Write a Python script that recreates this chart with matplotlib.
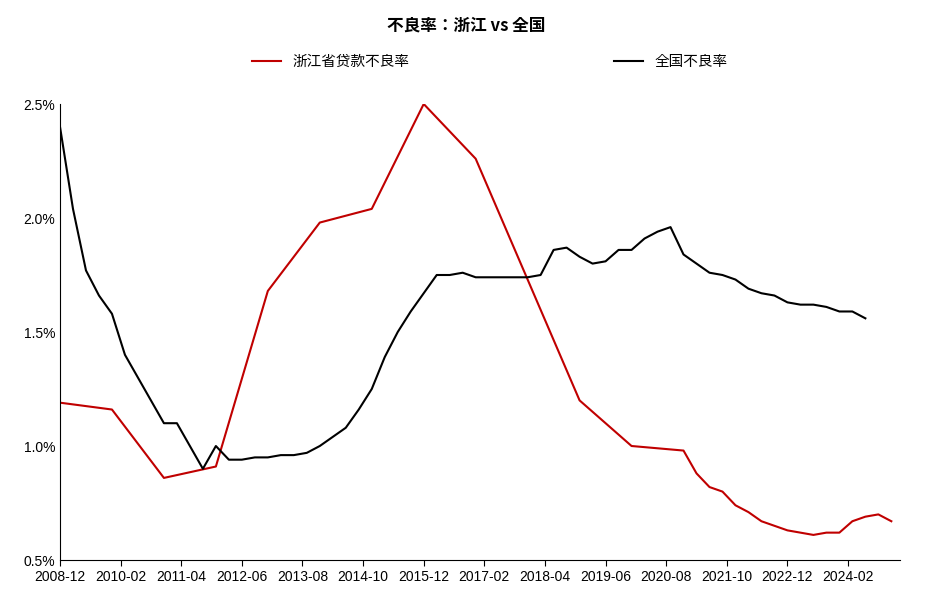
import matplotlib
matplotlib.use("Agg")
import matplotlib.pyplot as plt
import matplotlib.ticker as mt
from matplotlib.font_manager import FontProperties

REG = "/usr/share/fonts/opentype/noto/NotoSansCJK-Regular.ttc"
BOLD = "/usr/share/fonts/opentype/noto/NotoSansCJK-Bold.ttc"
plt.rcParams["font.family"] = "sans-serif"
plt.rcParams["font.sans-serif"] = ["Liberation Sans", "DejaVu Sans"]

# month offsets from 2008-12
nat_months = list(range(0, 187, 3))
nat_vals = [2.40, 2.04, 1.77, 1.66, 1.58, 1.40, 1.30, 1.20, 1.10, 1.10, 1.00, 0.90,
            1.00, 0.94, 0.94, 0.95, 0.95, 0.96, 0.96, 0.97, 1.00, 1.04, 1.08, 1.16,
            1.25, 1.39, 1.50, 1.59, 1.67, 1.75, 1.75, 1.76, 1.74, 1.74, 1.74, 1.74,
            1.74, 1.75, 1.86, 1.87, 1.83, 1.80, 1.81, 1.86, 1.86, 1.91, 1.94, 1.96,
            1.84, 1.80, 1.76, 1.75, 1.73, 1.69, 1.67, 1.66, 1.63, 1.62, 1.62, 1.61,
            1.59, 1.59, 1.56]
zj_months = [0, 12, 24, 36, 48, 60, 72, 84, 96, 108, 120, 132, 144, 147, 150, 153,
             156, 159, 162, 165, 168, 171, 174, 177, 180, 183, 186, 189, 192]
zj_vals = [1.19, 1.16, 0.86, 0.91, 1.68, 1.98, 2.04, 2.50, 2.26, 1.73, 1.20, 1.00,
           0.98, 0.88, 0.82, 0.80, 0.74, 0.71, 0.67, 0.65, 0.63, 0.62, 0.61, 0.62,
           0.62, 0.67, 0.69, 0.70, 0.67]
tick_months = list(range(0, 183, 14))
tick_labels = ["2008-12", "2010-02", "2011-04", "2012-06", "2013-08", "2014-10",
               "2015-12", "2017-02", "2018-04", "2019-06", "2020-08", "2021-10",
               "2022-12", "2024-02"]

fig = plt.figure(figsize=(9.33, 6.02), dpi=100)
ax = fig.add_axes([60/933, 42/602, 840/933, 456/602])
ax.plot(zj_months, zj_vals, color="#C00000", lw=1.5, label="浙江省贷款不良率")
ax.plot(nat_months, nat_vals, color="black", lw=1.5, label="全国不良率")
ax.set_xlim(0, 194)
ax.set_ylim(0.5, 2.5)
ax.set_yticks([0.5, 1.0, 1.5, 2.0, 2.5])
ax.yaxis.set_major_formatter(mt.FuncFormatter(lambda v, p: f"{v:.1f}%"))
ax.set_xticks(tick_months)
ax.set_xticklabels(tick_labels)
ax.tick_params(labelsize=10, length=4)
ax.tick_params(axis="y", length=0)
for s in ["top", "right"]:
    ax.spines[s].set_visible(False)
fig.text(0.5, 0.958, "不良率：浙江 vs 全国", ha="center", va="center",
         fontproperties=FontProperties(fname=BOLD, size=12))
fig.legend(loc="center", bbox_to_anchor=(0.525, 0.897), ncol=2, frameon=False,
           prop=FontProperties(fname=REG, size=10.5), columnspacing=14, handlelength=2)
fig.savefig("out.png", dpi=100)
